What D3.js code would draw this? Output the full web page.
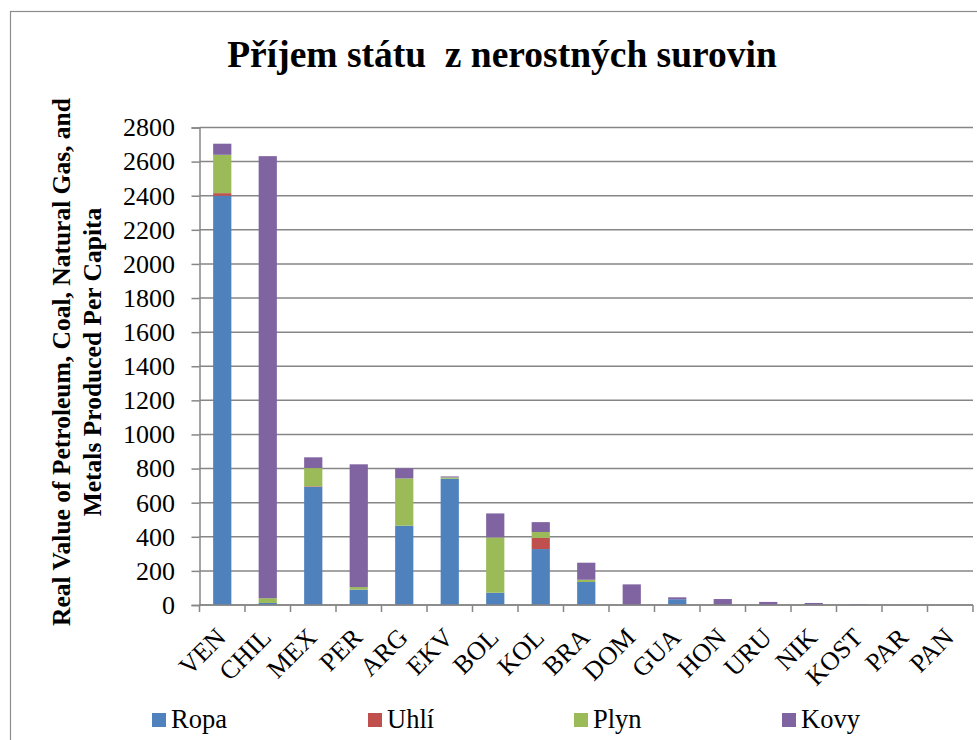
<!DOCTYPE html>
<html>
<head>
<meta charset="utf-8">
<script src="https://cdn.jsdelivr.net/npm/d3@7"></script>
<style>
  body { margin: 0; background: #fff; }
  svg { display: block; font-family: "Liberation Serif", "Times New Roman", serif; }
</style>
</head>
<body>
<div class="container"></div>
<script>
// DATA
const countries = ["VEN", "CHIL", "MEX", "PER", "ARG", "EKV", "BOL", "KOL", "BRA", "DOM", "GUA", "HON", "URU", "NIK", "KOST", "PAR", "PAN"];
const ropa = [2400, 12, 693, 90, 465, 740, 72, 328, 135, 0, 34, 0, 0, 0, 0, 0, 0];
const uhli = [15, 0, 3, 0, 0, 0, 0, 66, 0, 0, 0, 0, 0, 0, 0, 0, 0];
const plyn = [225, 28, 107, 15, 277, 8, 324, 34, 13, 0, 0, 0, 0, 0, 0, 0, 0];
const kovy = [65, 2592, 63, 720, 60, 6, 141, 58, 100, 121, 11, 35, 18, 12, 4, 1, 0];
const seriesNames = ["Ropa", "Uhlí", "Plyn", "Kovy"];
const seriesColors = ["#4F81BD", "#C0504D", "#9BBB59", "#8064A2"];
const yTicks = d3.range(0, 2801, 200);

// SETUP
const width = 977, height = 740;
const plot = { left: 199.5, right: 973, top: 127.5, bottom: 605 };

const svg = d3.select("div.container")
  .append("svg")
  .attr("width", width)
  .attr("height", height);

// outer frame of the chart (cut off at right and bottom in the original)
svg.append("rect")
  .attr("x", 10.5).attr("y", 11.5)
  .attr("width", width).attr("height", height)
  .attr("fill", "none")
  .attr("stroke", "#8c8c8c")
  .attr("stroke-width", 1.2);

// title
svg.append("text")
  .attr("x", 502).attr("y", 67)
  .attr("text-anchor", "middle")
  .style("font-size", "37.5px")
  .style("font-weight", "bold")
  .attr("xml:space", "preserve")
  .text("Příjem státu  z nerostných surovin");

// scales
const x = d3.scaleBand()
  .domain(countries)
  .range([plot.left, plot.right])
  .paddingInner(0.6)
  .paddingOuter(0.3);

const y = d3.scaleLinear()
  .domain([0, 2800])
  .range([plot.bottom, plot.top]);

// gridlines
svg.append("g")
  .selectAll("line")
  .data(yTicks)
  .enter()
  .append("line")
  .attr("x1", plot.left).attr("x2", plot.right)
  .attr("y1", d => y(d)).attr("y2", d => y(d))
  .attr("stroke", "#868686")
  .attr("stroke-width", 1.5);

// y axis
const yAxis = svg.append("g")
  .attr("transform", `translate(${plot.left},0)`)
  .call(d3.axisLeft(y).tickValues(yTicks).tickSize(8).tickPadding(16.5).tickFormat(d3.format("d")));
yAxis.selectAll("line").attr("stroke", "#868686").attr("stroke-width", 1.5);
yAxis.select(".domain").attr("stroke", "#868686").attr("stroke-width", 1.5);
yAxis.selectAll("text")
  .style("font-family", "Liberation Serif, serif")
  .style("font-size", "26px")
  .attr("fill", "#000");

// stacked bars
const rows = countries.map((c, i) => ({ country: c, Ropa: ropa[i], "Uhlí": uhli[i], Plyn: plyn[i], Kovy: kovy[i] }));
const stacked = d3.stack().keys(seriesNames)(rows);

svg.append("g")
  .selectAll("g")
  .data(stacked)
  .enter()
  .append("g")
  .attr("fill", (d, i) => seriesColors[i])
  .selectAll("rect")
  .data(d => d)
  .enter()
  .append("rect")
  .attr("x", d => x(d.data.country))
  .attr("width", x.bandwidth())
  .attr("y", d => y(d[1]))
  .attr("height", d => y(d[0]) - y(d[1]));

// x axis with tick marks between categories
const xAxisG = svg.append("g");
xAxisG.append("line")
  .attr("x1", plot.left).attr("x2", plot.right)
  .attr("y1", plot.bottom).attr("y2", plot.bottom)
  .attr("stroke", "#868686").attr("stroke-width", 1.5);
xAxisG.selectAll("line.tick")
  .data(d3.range(countries.length + 1))
  .enter()
  .append("line")
  .attr("class", "tick")
  .attr("x1", i => plot.left + i * x.step())
  .attr("x2", i => plot.left + i * x.step())
  .attr("y1", plot.bottom).attr("y2", plot.bottom + 7)
  .attr("stroke", "#868686").attr("stroke-width", 1.5);

xAxisG.selectAll("text")
  .data(countries)
  .enter()
  .append("text")
  .attr("transform", d => `translate(${x(d) + x.bandwidth() / 2 + 5},${plot.bottom + 34}) rotate(-45)`)
  .attr("text-anchor", "end")
  .style("font-size", "26px")
  .text(d => d);

// y axis title
const yTitle = svg.append("text")
  .attr("transform", "translate(0,362) rotate(-90)")
  .attr("text-anchor", "middle")
  .style("font-size", "25.5px")
  .style("font-weight", "bold");
yTitle.append("tspan").attr("x", 0).attr("y", 69.5).text("Real Value of Petroleum, Coal, Natural Gas, and");
yTitle.append("tspan").attr("x", 0).attr("y", 100.5).text("Metals Produced Per Capita");

// legend
const legendX = [152, 368, 574, 782];
const legend = svg.append("g")
  .selectAll("g")
  .data(seriesNames)
  .enter()
  .append("g")
  .attr("transform", (d, i) => `translate(${legendX[i]},713)`);
legend.append("rect")
  .attr("width", 14).attr("height", 14)
  .attr("fill", (d, i) => seriesColors[i]);
legend.append("text")
  .attr("x", 19).attr("y", 15)
  .style("font-size", "26.5px")
  .text(d => d);
</script>
</body>
</html>
